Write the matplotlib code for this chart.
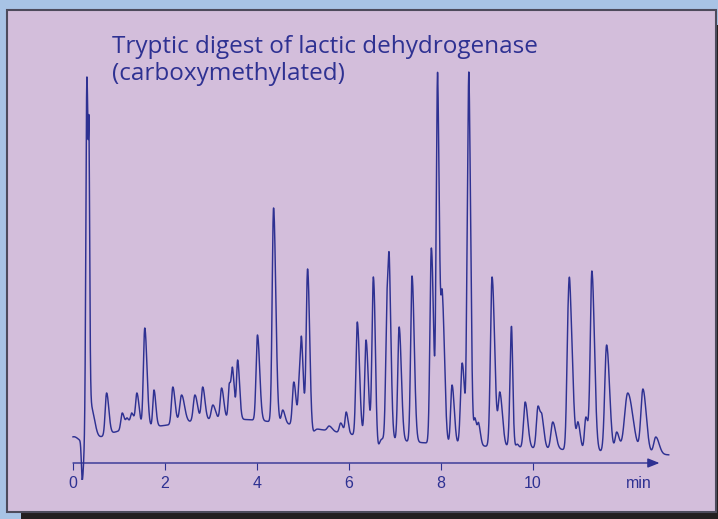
import matplotlib
matplotlib.use("Agg")
import matplotlib.pyplot as plt
from matplotlib.patches import Rectangle
import numpy as np

W, H = 718, 519
INK = "#2e3192"
PANEL = "#d3bedb"
BACK = "#a8c3e5"

# peaks: retention time (min), detector signal at apex, rising-edge width (min)
rt = [0.200, 0.302, 0.348, 0.40, 0.73, 1.07, 1.18, 1.28, 1.39, 1.56, 1.76,
      2.17, 2.36, 2.65, 2.82, 3.04, 3.23, 3.40, 3.47, 3.58, 4.01, 4.36, 4.56,
      4.80, 4.92, 4.97, 5.10, 5.17, 5.57, 5.82, 5.94, 6.18, 6.37, 6.53, 6.60,
      6.83, 6.88, 7.09, 7.37, 7.79, 7.90, 7.93, 8.03, 8.24, 8.46, 8.57, 8.61,
      8.74, 8.82, 9.11, 9.28, 9.54, 9.58, 9.83, 10.11, 10.20, 10.43, 10.76,
      10.80, 10.98, 11.15, 11.28, 11.37, 11.60, 11.82, 12.06, 12.39, 12.67]
apex = [-17, 386, 338, 62, 70, 50, 45, 50, 70, 135, 73,
        76, 68, 68, 76, 58, 75, 80, 95, 103, 128, 255, 53,
        81, 91, 125, 194, 76, 37, 40, 51, 141, 123, 186, 53,
        176, 201, 136, 187, 215, 283, 386, 171, 78, 100, 240, 385,
        45, 40, 186, 71, 131, 45, 61, 57, 47, 41, 153,
        182, 41, 46, 192, 60, 118, 31, 70, 74, 26]
width = [0.018, 0.022, 0.010, 0.045, 0.030, 0.030, 0.030, 0.030, 0.030, 0.030, 0.025,
         0.030, 0.040, 0.035, 0.030, 0.035, 0.030, 0.025, 0.025, 0.025, 0.030, 0.030, 0.030,
         0.030, 0.025, 0.025, 0.030, 0.030, 0.040, 0.030, 0.025, 0.030, 0.030, 0.030, 0.025,
         0.030, 0.025, 0.030, 0.030, 0.030, 0.020, 0.025, 0.030, 0.030, 0.035, 0.020, 0.025,
         0.025, 0.025, 0.035, 0.035, 0.035, 0.025, 0.035, 0.035, 0.030, 0.040, 0.030,
         0.040, 0.030, 0.030, 0.035, 0.030, 0.040, 0.035, 0.070, 0.045, 0.045]

# slow baseline drift under the peaks
drift_rt = [0.0, 1.0, 3.1, 7.5]
drift_h = [10, 6, 33, 17]
drift_w = [0.12, 0.5, 2.1, 4.5]

t_end = 12.95
tail = 1.6

ticks = [0, 2, 4, 6, 8, 10]
title = "Tryptic digest of lactic dehydrogenase\n(carboxymethylated)"


def drift(t):
    t = np.asarray(t, dtype=float)
    out = np.zeros_like(t)
    for c, h, w in zip(drift_rt, drift_h, drift_w):
        out = out + h * np.exp(-0.5 * ((t - c) / w) ** 2)
    return out


def shape(t, c, w):
    # tailing peak: wider on the trailing side
    s = np.where(t < c, w, w * tail)
    return np.exp(-0.5 * ((t - c) / s) ** 2)


def trace(t):
    # pick amplitudes so the summed trace passes through every listed apex
    centres = np.asarray(rt)
    M = np.column_stack([shape(centres, c, w) for c, w in zip(rt, width)])
    amp = np.linalg.solve(M, np.asarray(apex) - drift(centres))
    y = drift(t)
    for c, a, w in zip(rt, amp, width):
        y = y + a * shape(t, c, w)
    return y


fig = plt.figure(figsize=(W / 100, H / 100), dpi=100, facecolor=BACK)

# drop shadow and panel
fig.add_artist(Rectangle((21 / W, 0), 1, 1 - 25 / H, transform=fig.transFigure,
                         facecolor="#231f20", edgecolor="none", zorder=0))
fig.add_artist(Rectangle((7 / W, 1 - 512 / H), 709 / W, 502 / H, transform=fig.transFigure,
                         facecolor=PANEL, edgecolor="#4d4b5c", lw=1.5, zorder=0))

# axes laid out so 1 min = 46 px, origin at (73, 463) px
x0, ppm, y0 = 73, 46.0, 463
ax = fig.add_axes([40 / W, (H - 480) / H, 660 / W, 460 / H])
ax.set_xlim((40 - x0) / ppm, (700 - x0) / ppm)
ax.set_ylim(y0 - 480, y0 - 20)
ax.patch.set_alpha(0)
for sp in ax.spines.values():
    sp.set_visible(False)
ax.spines["bottom"].set_position(("data", 0))

t = np.linspace(0, t_end, 8000)
ax.plot(t, trace(t), color=INK, lw=1.05, zorder=3)

ax.annotate("", xy=(12.75, 0), xytext=(0, 0),
            arrowprops=dict(arrowstyle="-|>,head_length=0.7,head_width=0.28",
                            color=INK, lw=1.0, shrinkA=0, shrinkB=0))
ax.set_xticks(ticks)
ax.set_xticklabels([str(v) for v in ticks])
ax.tick_params(axis="x", direction="out", length=5, width=0.8, color=INK,
               labelcolor=INK, labelsize=11.5, pad=4)
for lab in ax.get_xticklabels():
    lab.set_family("Liberation Sans")
ax.set_yticks([])
ax.text(12.3, -20, "min", color=INK, fontsize=11.5, family="Liberation Sans",
        ha="center", va="center")

fig.text(112 / W, 1 - 35 / H, title, color=INK, fontsize=17.5, family="Open Sans",
         ha="left", va="top", linespacing=1.18)

fig.savefig("out.png", dpi=100, facecolor=BACK)
